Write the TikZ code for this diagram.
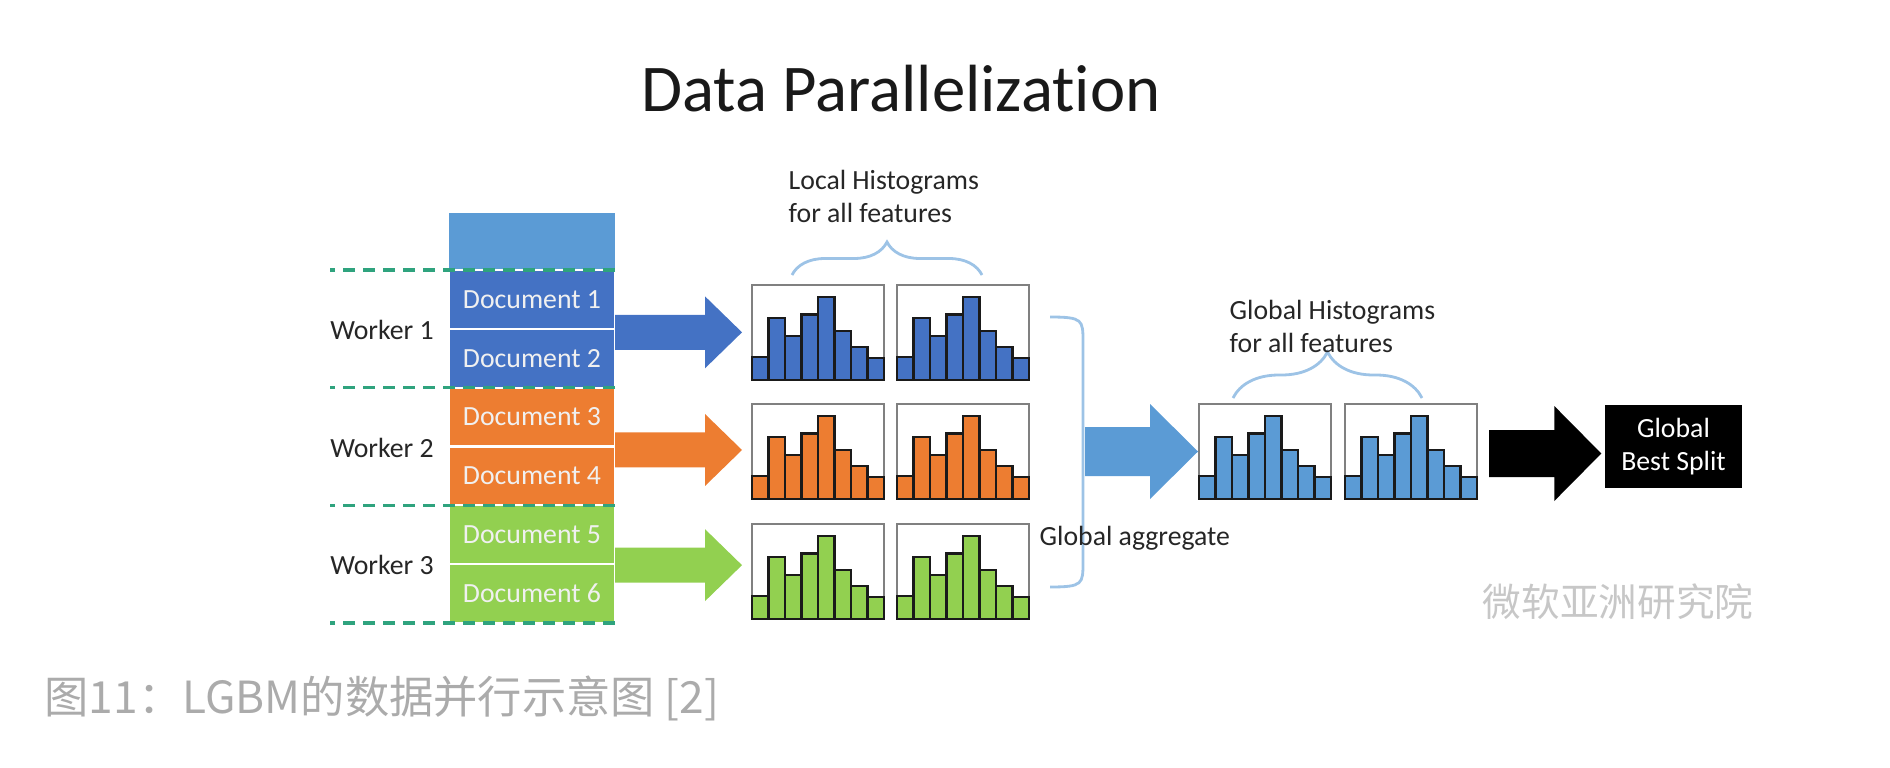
\documentclass[tikz,border=0pt]{standalone}
\usepackage{fontspec}
\setmainfont{Carlito}[Ligatures=NoCommon]
\newfontfamily\cjk{Noto Sans CJK SC}
\usetikzlibrary{calc,decorations.pathreplacing}

\definecolor{docblue}{HTML}{4472C4}
\definecolor{docorange}{HTML}{ED7D31}
\definecolor{docgreen}{HTML}{92D050}
\definecolor{lightblue}{HTML}{5B9BD5}
\definecolor{bracecol}{HTML}{9DC3E6}
\definecolor{sepgreen}{HTML}{2FA37E}
\definecolor{barline}{HTML}{1A1A1A}
\definecolor{capgray}{HTML}{ABABAB}

% one histogram: name, north west corner, bar colour
\newcommand{\histo}[3]{%
  \node[histbox, anchor=north west] (#1) at (#2) {};
  \foreach \h [count=\i] in {0.24,0.65,0.46,0.69,0.87,0.52,0.35,0.23}
    \filldraw[fill=#3, draw=barline, line width=0.6pt]
      ($(#1.south west)+({(\i-1)*0.165},0)$) rectangle ++(0.165,{\h*0.95});
}
% block arrow: tail, tip, colour, half shaft, half head, head length
\newcommand{\fatarrow}[6]{%
  \fill[#3] let \p1=(#1), \p2=(#2) in
    (\x1,\y1+#4) -- (\x2-#6,\y1+#4) -- (\x2-#6,\y1+#5) -- (\x2,\y1)
    -- (\x2-#6,\y1-#5) -- (\x2-#6,\y1-#4) -- (\x1,\y1-#4) -- cycle;
}

\begin{document}
\begin{tikzpicture}[
  lbl/.style={font=\fontsize{7.9}{9.4}\selectfont, text=black!85, inner sep=0pt},
  docbox/.style={minimum width=1.66cm, minimum height=0.5883cm, inner sep=0pt,
    outer sep=0pt, draw=white, line width=0.6pt, text=white!94!black,
    font=\fontsize{7.9}{9.4}\selectfont},
  histbox/.style={draw=black!50, line width=0.6pt, minimum width=1.32cm,
    minimum height=0.95cm, inner sep=0pt, outer sep=0pt},
  sepline/.style={sepgreen, line width=0.9pt, dash pattern=on 0.12cm off 0.08cm},
  bracket/.style={bracecol, line width=0.8pt},
  bestbox/.style={fill=black, text=white, minimum width=1.37cm, minimum height=0.83cm,
    align=center, inner sep=0pt, font=\fontsize{7.9}{9.4}\selectfont}
]
\useasboundingbox (0,0) rectangle (18.9,-7.68);

\node[font=\fontsize{19}{22}\selectfont, text=black!90, anchor=base] (title) at (9.01,-1.12) {Data Parallelization};

% documents
\node[fill=lightblue, minimum width=1.66cm, minimum height=0.57cm, inner sep=0pt, outer sep=0pt, anchor=south] (top) at (5.32,-2.70) {};
\node[docbox, fill=docblue, anchor=north] (doc1) at (top.south) {Document 1};
\node[docbox, fill=docblue, anchor=north] (doc2) at (doc1.south) {Document 2};
\node[docbox, fill=docorange, anchor=north] (doc3) at (doc2.south) {Document 3};
\node[docbox, fill=docorange, anchor=north] (doc4) at (doc3.south) {Document 4};
\node[docbox, fill=docgreen, anchor=north] (doc5) at (doc4.south) {Document 5};
\node[docbox, fill=docgreen, anchor=north] (doc6) at (doc5.south) {Document 6};

\foreach \d in {doc1,doc3,doc5}
  \draw[sepline] (\d.north east) -- ++(-2.85,0);
\draw[sepline] (doc6.south east) -- ++(-2.85,0);

\node[lbl] (w1) at (3.82,-3.30) {Worker 1};
\node[lbl] (w2) at (3.82,-4.48) {Worker 2};
\node[lbl] (w3) at (3.82,-5.65) {Worker 3};

% local histograms
\foreach \r/\c/\y in {1/docblue/-2.85, 2/docorange/-4.04, 3/docgreen/-5.24}{
  \histo{h\r1}{7.52,\y}{\c}
  \histo{h\r2}{8.97,\y}{\c}
}

\fatarrow{$(doc2.north east)+(0,-0.035)$}{$(h11.west)+(-0.1,0)$}{docblue}{0.175cm}{0.36cm}{0.37cm}
\fatarrow{$(doc4.north east)+(0,-0.035)$}{$(h21.west)+(-0.1,0)$}{docorange}{0.175cm}{0.36cm}{0.37cm}
\fatarrow{$(doc6.north east)+(0,-0.01)$}{$(h31.west)+(-0.1,0)$}{docgreen}{0.175cm}{0.36cm}{0.37cm}

\draw[bracket, decoration={brace, amplitude=0.33cm}, decorate] (7.92,-2.75) -- (9.82,-2.75);
\node[lbl, align=left, anchor=west] (loc) at (7.88,-1.965) {Local Histograms\\for all features};

% global aggregate
\draw[bracket] (10.50,-3.17) .. controls (10.83,-3.17) and (10.83,-3.20) .. (10.83,-3.42)
  -- (10.83,-5.62) .. controls (10.83,-5.84) and (10.83,-5.87) .. (10.50,-5.87);
\node[lbl, anchor=west] (agg) at (10.39,-5.38) {Global aggregate};

\histo{g1}{11.99,-4.04}{lightblue}
\histo{g2}{13.45,-4.04}{lightblue}

\fatarrow{$(h22.east)+(0.56,0)$}{$(g1.west)+(-0.01,0)$}{lightblue}{0.245cm}{0.475cm}{0.48cm}

\draw[bracket, decoration={brace, amplitude=0.46cm}, decorate] (12.33,-3.98) -- (14.22,-3.98);
\node[lbl, align=left, anchor=west] (glo) at (12.29,-3.265) {Global Histograms\\for all features};

\node[bestbox] (best) at (16.735,-4.465) {Global\\Best Split};
\fatarrow{$(g2.east)+(0.12,-0.02)$}{$(best.west)+(-0.03,0)$}{black}{0.235cm}{0.475cm}{0.47cm}

\node[font=\cjk\fontsize{11}{13}\selectfont, text=black!22] (wm) at (16.18,-6.02) {微软亚洲研究院};
\node[font=\cjk\fontsize{12.6}{14}\selectfont, text=capgray, anchor=base west, inner sep=0pt] (cap) at (0.44,-7.13) {图11：LGBM的数据并行示意图 [2]};
\end{tikzpicture}
\end{document}
